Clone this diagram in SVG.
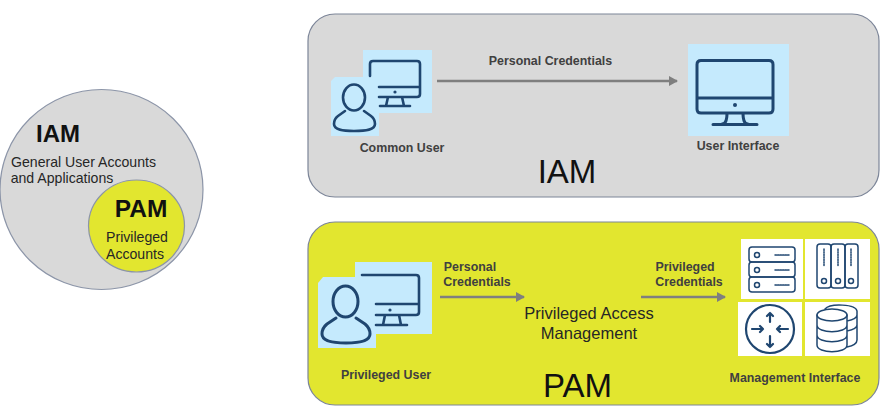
<svg xmlns="http://www.w3.org/2000/svg" width="886" height="411" viewBox="0 0 886 411">
<style>
text{font-family:"Liberation Sans",Arial,sans-serif;text-anchor:middle}
.b{font-weight:bold;fill:#404040;font-size:12.400px}
.ic{fill:none;stroke:#1f4670;stroke-linecap:round;stroke-linejoin:round}
.bg{fill:#c5eafd}
.tile{fill:#fff}
.conn{stroke:#7f7f7f;stroke-width:2.6;fill:none;marker-end:url(#arrow)}
</style>
<defs>
<marker id="arrow" markerUnits="userSpaceOnUse" markerWidth="9" markerHeight="10" refX="8" refY="5" orient="auto"><path d="M0 0L9 5L0 10Z" fill="#7f7f7f"/></marker>
</defs>
<rect width="886" height="411" fill="#fff"/>
<g id="venn-iam">
<ellipse cx="101.500" cy="189.500" rx="101.500" ry="100" fill="#d9d9d9" stroke="#8c95a8" stroke-width="1.200"/>
<text x="58" y="142" font-size="24" font-weight="bold" fill="#111">IAM</text>
<text x="83.500" y="167" font-size="14.100" fill="#262626">General User Accounts</text>
<text x="62" y="183" font-size="14.100" fill="#262626">and Applications</text>
</g>
<g id="venn-pam">
<ellipse cx="136.500" cy="226" rx="48" ry="46" fill="#e2e62f" stroke="#8c95a8" stroke-width="1.200"/>
<text x="141" y="217" font-size="24.500" font-weight="bold" fill="#111">PAM</text>
<text x="137" y="242" font-size="14.100" fill="#262626">Privileged</text>
<text x="135" y="259" font-size="14.100" fill="#262626">Accounts</text>
</g>
<g id="panel-iam">
<rect x="308" y="14" width="571" height="183" rx="27" fill="#d9d9d9" stroke="#7c8598" stroke-width="1.200"/>
<text x="567" y="183" font-size="33" fill="#111">IAM</text>
</g>
<g id="panel-pam">
<rect x="308" y="222" width="571" height="183" rx="27" fill="#e2e62f" stroke="#7c8598" stroke-width="1.200"/>
<text x="577.500" y="397" font-size="33" fill="#111">PAM</text>
</g>
<g id="common-user">
<rect class="bg" x="363" y="50" width="69" height="63"/>
<path class="bg" d="M335 77H379V136H331V81Z"/>
<path class="ic" stroke-width="2.600" d="M370 76V64Q370 61 373 61H417Q420 61 420 64V94Q420 97 417 97H379M379 87H420M388 97L386 106M402 97L404 106M380 106H410"/>
<circle cx="395" cy="92" r="1.600" fill="#1f4670"/>
<ellipse class="ic" stroke-width="2.600" cx="354" cy="97.500" rx="11" ry="13"/>
<path class="ic" stroke-width="2.600" d="M345 111L338 116Q334 119 334 124C334 130 343 131 354 131C366 131 375 130 375 124Q375 119 371 116L364 111"/>
<text class="b" x="402" y="152">Common User</text>
</g>
<g id="user-interface">
<rect class="bg" x="688" y="44" width="101" height="92"/>
<path class="ic" stroke-width="3" d="M701 60.500H769Q773 60.500 773 64.500V109Q773 113 769 113H701Q697 113 697 109V64.500Q697 60.500 701 60.500ZM697 98H773M727 113Q727 124 722 124M743 113Q743 124 748 124M713 124.500H757"/>
<circle cx="735" cy="105" r="2" fill="#1f4670"/>
<text class="b" x="738" y="150">User Interface</text>
</g>
<g id="privileged-user">
<rect class="bg" x="355" y="262" width="77" height="72"/>
<path class="bg" d="M323 277H376V348H318V283Z"/>
<path class="ic" stroke-width="2.600" d="M362 275H416Q419 275 419 278V312Q419 315 416 315H376M376 304H419M385 315L383 325M399 315L401 325M376 325H407"/>
<circle cx="390" cy="310" r="1.600" fill="#1f4670"/>
<ellipse class="ic" stroke-width="3" cx="345.500" cy="301.500" rx="12.500" ry="15.500"/>
<path class="ic" stroke-width="3" d="M336 318L327 324Q322 328 322 334C322 341 332 343 346 343C360 343 370 341 370 334Q370 328 365 324L356 318"/>
<text class="b" x="386" y="379">Privileged User</text>
</g>
<g id="pam-core">
<text x="589" y="319" font-size="16.500" fill="#262626">Privileged Access</text>
<text x="589" y="339" font-size="16.500" fill="#262626">Management</text>
</g>
<g id="management-interface">
<rect class="tile" x="741" y="239" width="62" height="60"/>
<rect class="tile" x="805" y="239" width="65" height="60"/>
<rect class="tile" x="738" y="302" width="64" height="54"/>
<rect class="tile" x="805" y="302" width="65" height="54"/>
<g class="ic" stroke-width="1.500">
<rect x="749" y="247" width="46" height="15" rx="3"/><rect x="749" y="262" width="46" height="15" rx="3"/><rect x="749" y="277" width="46" height="15" rx="3"/>
<circle cx="757" cy="255" r="2.500"/><circle cx="757" cy="270" r="2.500"/><circle cx="757" cy="285" r="2.500"/>
<path stroke-dasharray="1.500 1" d="M775 255H790M775 270H790M775 285H790"/>
<rect x="817" y="244" width="14" height="44" rx="3"/><rect x="831" y="244" width="14" height="44" rx="3"/><rect x="845" y="244" width="13" height="44" rx="3"/>
<circle cx="824" cy="281" r="2.500"/><circle cx="838" cy="281" r="2.500"/><circle cx="851" cy="281" r="2.500"/>
<path stroke-dasharray="1.500 1" d="M824 249V266M838 249V266M851 249V266"/>
<ellipse cx="832" cy="315" rx="15" ry="6"/>
<path d="M817 315V345C817 354 847 354 847 345V315M817 325C817 334 847 334 847 325M817 335C817 344 847 344 847 335M825 309C830 303 856 304 857 311V340C857 344 852 346 847 347M847 321C852 320 857 318 857 315M847 331C852 330 857 328 857 325"/>
</g>
<g class="ic" stroke-width="2.200">
<circle cx="770" cy="329" r="24"/>
<path d="M770 322V313M767 316L770 313L773 316M770 336V347M767 344L770 347L773 344M763 329H752M760 326L763 329L760 332M777 329H788M780 326L777 329L780 332"/>
</g>
<text class="b" x="795" y="382">Management Interface</text>
</g>
<g id="connectors">
<path class="conn" d="M437 81H677"/>
<path class="conn" d="M440 297H524"/>
<path class="conn" d="M641 297H725"/>
<text class="b" x="550.500" y="65">Personal Credentials</text>
<text class="b" x="470" y="271">Personal</text>
<text class="b" x="477" y="286">Credentials</text>
<text class="b" x="685" y="271">Privileged</text>
<text class="b" x="689" y="286">Credentials</text>
</g>
</svg>
